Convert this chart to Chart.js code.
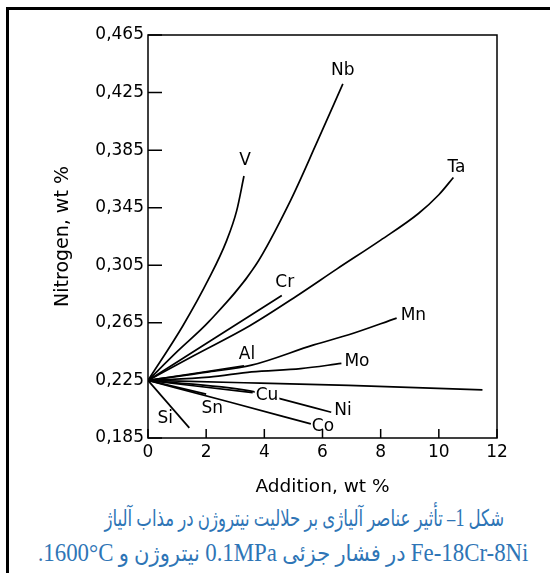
<!DOCTYPE html>
<html>
<head>
<meta charset="utf-8">
<script src="https://cdn.jsdelivr.net/npm/chart.js"></script>
<style>
body { margin:0; background:#fff; }
#page { position:relative; width:550px; height:573px; overflow:hidden; background:#fff; }
#frame { position:absolute; left:6px; top:7px; width:600px; height:600px; border-left:3px solid #000; border-top:3px solid #000; }
#chartBox { position:absolute; left:0; top:0; width:550px; height:500px; }
.cap { position:absolute; white-space:nowrap; direction:rtl; color:#2e75b6;
  font-family:"Liberation Serif","DejaVu Sans",serif; font-size:23px; line-height:35px; transform-origin:50% 50%; }
.cap .ltr { direction:ltr; unicode-bidi:isolate; font-size:25px; }
</style>
</head>
<body>
<div id="page">
  <div id="frame"></div>
  <div id="chartBox"><canvas id="myChart" width="550" height="500"></canvas></div>
  <div class="cap" id="cap1" style="top:500px">شکل <span class="ltr">1</span>– تأثیر عناصر آلیاژی بر حلالیت نیتروژن در مذاب آلیاژ</div>
  <div class="cap" id="cap2" style="top:535px"><span class="ltr">Fe-18Cr-8Ni</span> در فشار جزئی <span class="ltr">0.1MPa</span> نیتروژن و <span class="ltr">1600°C</span>.</div>
</div>

<script>
// axis ticks
const xTickValues = [0, 2, 4, 6, 8, 10, 12];
const yTickValues = [0.185, 0.225, 0.265, 0.305, 0.345, 0.385, 0.425, 0.465];
const yTickLabels = ['0,185', '0,225', '0,265', '0,305', '0,345', '0,385', '0,425', '0,465'];

// addition (wt %) and nitrogen (wt %)
const addV  = [0, 1.2, 2.1, 2.7, 3.05, 3.3];
const nV    = [0.225, 0.263, 0.296, 0.322, 0.343, 0.367];
const addNb = [0, 1.0, 2.1, 3.7, 4.9, 5.8, 6.7];
const nNb   = [0.225, 0.245, 0.266, 0.305, 0.350, 0.390, 0.431];
const addTa = [0, 1.6, 3.5, 5.1, 6.5, 8.0, 9.3, 10.0, 10.5];
const nTa   = [0.225, 0.2425, 0.263, 0.2835, 0.3025, 0.3225, 0.341, 0.354, 0.366];
const addCr = [0, 2.3, 4.6];
const nCr   = [0.225, 0.2545, 0.284];
const addAl = [0, 1.8, 3.3];
const nAl   = [0.225, 0.2305, 0.2352];
const addMn = [0, 2.1, 3.56, 5.7, 6.9, 8.55];
const nMn   = [0.225, 0.2309, 0.2356, 0.2497, 0.2567, 0.2683];
const addMo = [0, 2.1, 3.56, 5.25, 6.65];
const nMo   = [0.225, 0.2273, 0.2309, 0.2332, 0.2368];
const addW  = [0, 3.3, 6.9, 11.5];
const nW    = [0.225, 0.2234, 0.2215, 0.2185];
const addCu = [0, 3.6];
const nCu   = [0.225, 0.2165];
const addNi = [0, 3.5, 4.5, 6.3];
const nNi   = [0.225, 0.2178, 0.2125, 0.2029];
const addSn = [0, 2.0];
const nSn   = [0.225, 0.2155];
const addCo = [0, 2.8, 5.6];
const nCo   = [0.225, 0.210, 0.1948];
const addSi = [0, 1.42];
const nSi   = [0.225, 0.192];

const elements  = ['V', 'Nb', 'Ta', 'Cr', 'Al', 'Mn', 'Mo', '', 'Cu', 'Ni', 'Sn', 'Co', 'Si'];
const additions = [addV, addNb, addTa, addCr, addAl, addMn, addMo, addW, addCu, addNi, addSn, addCo, addSi];
const nitrogen  = [nV, nNb, nTa, nCr, nAl, nMn, nMo, nW, nCu, nNi, nSn, nCo, nSi];

// where each name sits relative to the curve end (pixels)
const labelPlace = {
  V:  {dx: 1,   dy: -15, align: 'center'},
  Nb: {dx: 0,   dy: -13, align: 'center'},
  Ta: {dx: 3,   dy: -10, align: 'center'},
  Cr: {dx: 3,   dy: -13, align: 'center'},
  Al: {dx: 3,   dy: -11, align: 'center'},
  Mn: {dx: 4,   dy: -3,  align: 'left'},
  Mo: {dx: 3,   dy: -2,  align: 'left'},
  Cu: {dx: 3,   dy: 3,   align: 'left', clear: true},
  Ni: {dx: 3,   dy: -2,  align: 'left'},
  Co: {dx: 1,   dy: 3,   align: 'left'},
  Sn: {dx: 6,   dy: 14,  align: 'center'},
  Si: {dx: -24, dy: -9,  align: 'center'}
};

const FONT = 'DejaVu Sans';

const datasets = elements.map((name, i) => ({
  label: name,
  data: additions[i].map((a, j) => ({x: a, y: nitrogen[i][j]})),
  borderColor: '#000',
  borderWidth: 1.7,
  pointRadius: 0,
  cubicInterpolationMode: 'monotone',
  fill: false
}));

const curveLabels = {
  id: 'curveLabels',
  afterDatasetsDraw(chart) {
    const {ctx, scales: {x, y}} = chart;
    ctx.save();
    ctx.font = '17px "' + FONT + '"';
    ctx.textBaseline = 'middle';
    chart.data.datasets.forEach(ds => {
      if (!ds.label) return;
      const end = ds.data[ds.data.length - 1];
      const o = labelPlace[ds.label];
      const px = x.getPixelForValue(end.x) + o.dx;
      const py = y.getPixelForValue(end.y) + o.dy;
      ctx.textAlign = o.align;
      if (o.clear) {
        const w = ctx.measureText(ds.label).width;
        const left = o.align === 'left' ? px : px - w / 2;
        ctx.fillStyle = '#fff';
        ctx.fillRect(left - 1, py - 8, w + 2, 16);
      }
      ctx.fillStyle = '#000';
      ctx.fillText(ds.label, px, py);
    });
    ctx.restore();
  }
};

const frameTicks = {
  id: 'frameTicks',
  afterDraw(chart) {
    const {ctx, chartArea: a, scales: {x, y}} = chart;
    ctx.save();
    ctx.strokeStyle = '#000';
    ctx.lineWidth = 1.5;
    ctx.strokeRect(a.left, a.top, a.right - a.left, a.bottom - a.top);
    ctx.beginPath();
    y.ticks.forEach(t => {
      const py = y.getPixelForValue(t.value);
      ctx.moveTo(a.left, py); ctx.lineTo(a.left + 14, py);
    });
    x.ticks.forEach(t => {
      const px = x.getPixelForValue(t.value);
      ctx.moveTo(px, a.bottom); ctx.lineTo(px, a.bottom - 9);
    });
    ctx.stroke();
    ctx.restore();
  }
};

const config = {
  type: 'line',
  data: {datasets: datasets},
  options: {
    responsive: false,
    animation: false,
    layout: {padding: {left: 0, top: 35, right: 53, bottom: 0}},
    plugins: {legend: {display: false}, tooltip: {enabled: false}},
    scales: {
      x: {
        type: 'linear',
        min: 0, max: 12,
        afterBuildTicks: s => { s.ticks = xTickValues.map(v => ({value: v})); },
        afterFit: s => { s.height = 62; },
        grid: {display: false, drawTicks: false},
        border: {display: false},
        ticks: {color: '#000', font: {family: FONT, size: 17}, padding: 4, maxRotation: 0, autoSkip: false},
        title: {display: true, text: 'Addition, wt %', color: '#000', font: {family: FONT, size: 18.5}, padding: {top: 0, bottom: 2}}
      },
      y: {
        type: 'linear',
        min: 0.185, max: 0.465,
        afterBuildTicks: s => { s.ticks = yTickValues.map(v => ({value: v})); },
        afterFit: s => { s.width = 148; },
        grid: {display: false, drawTicks: false},
        border: {display: false},
        ticks: {
          color: '#000', font: {family: FONT, size: 17}, padding: 4, autoSkip: false,
          callback: v => yTickLabels[yTickValues.indexOf(v)]
        },
        title: {display: true, text: 'Nitrogen, wt %', color: '#000', font: {family: FONT, size: 19}, padding: {top: 52, bottom: 0}}
      }
    }
  },
  plugins: [curveLabels, frameTicks]
};

var myChart = new Chart(document.getElementById('myChart'), config);

// fit the two caption lines to the width and centre they have in the figure
function fitCaption(id, center, width) {
  const el = document.getElementById(id);
  const w = el.offsetWidth;
  el.style.left = (center - w / 2) + 'px';
  el.style.transform = 'scaleX(' + (width / w) + ')';
}
fitCaption('cap1', 304, 400);
fitCaption('cap2', 283, 490);
</script>
</body>
</html>
